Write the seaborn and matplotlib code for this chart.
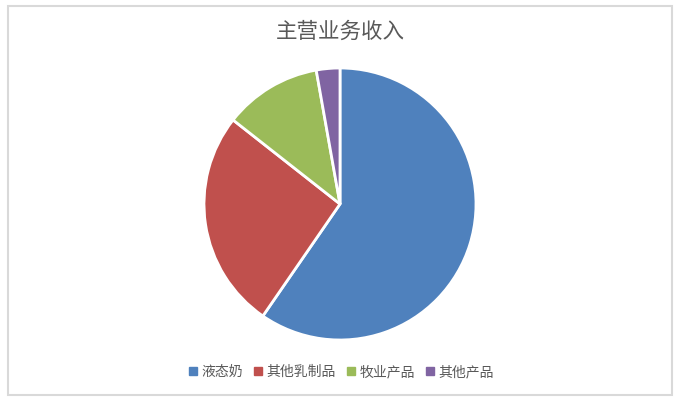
import matplotlib.pyplot as plt
import seaborn as sns
from matplotlib.patches import Rectangle
from matplotlib.lines import Line2D

sns.set_style('white')
plt.rcParams['font.family'] = ['Noto Sans CJK SC', 'DejaVu Sans']

title = '主营业务收入'
categories = ['液态奶', '其他乳制品', '牧业产品', '其他产品']
shares = [59.6, 26.0, 11.6, 2.8]
colors = ['#4F81BD', '#C0504D', '#9BBB59', '#8064A2']

W, H = 682, 404
fig = plt.figure(figsize=(W / 100, H / 100), dpi=100)
fig.patch.set_facecolor('white')

# light frame around the chart area
fig.add_artist(Rectangle((7.5 / W, 9.5 / H), 664 / W, 389 / H, transform=fig.transFigure,
                         fill=False, edgecolor='#D9D9D9', linewidth=1.5))

cx, cy, r = 340, 204, 136
ax = fig.add_axes([(cx - r) / W, (H - cy - r) / H, 2 * r / W, 2 * r / H])
ax.pie(shares, colors=colors, startangle=90, counterclock=False,
       wedgeprops=dict(edgecolor='white', linewidth=2))
ax.set_xlim(-1, 1)
ax.set_ylim(-1, 1)
ax.axis('off')
for p in ax.patches:
    p.set_clip_on(False)

fig.text(cx / W, 1 - 32 / H, title, ha='center', va='center', fontsize=15.5, color='#595959')

handles = [Line2D([], [], marker='s', linestyle='none', markersize=6,
                  markerfacecolor=c, markeredgecolor=c) for c in colors]
fig.legend(handles, categories, loc='center', bbox_to_anchor=(cx / W, 1 - 372 / H),
           ncol=4, frameon=False, fontsize=10, handletextpad=0.1, columnspacing=0.6,
           labelcolor='#595959', handlelength=1.0)

fig.savefig('out.png', dpi=100)
